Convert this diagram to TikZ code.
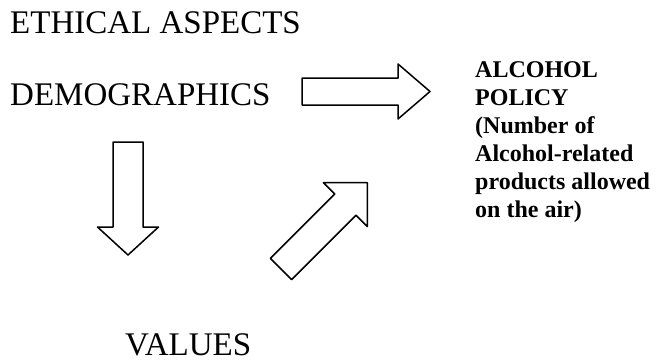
\documentclass[tikz,border=0pt]{standalone}
\usepackage{fontspec}
\setmainfont{Liberation Serif}
\begin{document}
\begin{tikzpicture}[x=1pt,y=-1pt,
  arrowline/.style={draw=black,line width=1.5pt,line join=round,fill=white},
  pics/blockarrow/.style n args={4}{code={
    \path[arrowline] (0,{-#2/2}) -- ({#1-#3},{-#2/2}) -- ({#1-#3},{-#4/2}) -- (#1,0)
      -- ({#1-#3},{#4/2}) -- ({#1-#3},{#2/2}) -- (0,{#2/2}) -- cycle;}},
  bigtext/.style={anchor=base west,inner sep=0pt,font=\fontsize{33}{38}\selectfont},
  smalltext/.style={anchor=base west,inner sep=0pt,font=\fontsize{24}{28}\selectfont\bfseries}
]
\useasboundingbox[fill=white] (0,0) rectangle (664,364);

\node[bigtext] (ethical) at (10,33) {ETHICAL ASPECTS};
\node[bigtext] (demo) at (10,105) {DEMOGRAPHICS};
\node[bigtext] (values) at (125,355) {VALUES};
\node[smalltext] (policy) at (475,77) {\begin{tabular}[t]{@{}l@{}}ALCOHOL\\POLICY\\(Number of\\Alcohol-related\\products allowed\\on the air)\end{tabular}};

% block arrows
\pic at (302,91.5) {blockarrow={128}{27}{32}{55}};
\pic[rotate=-90] at (128,142) {blockarrow={113}{30}{28}{61}};
\pic[rotate=45] at (281,269) {blockarrow={122}{30}{31}{62}};
\end{tikzpicture}
\end{document}
